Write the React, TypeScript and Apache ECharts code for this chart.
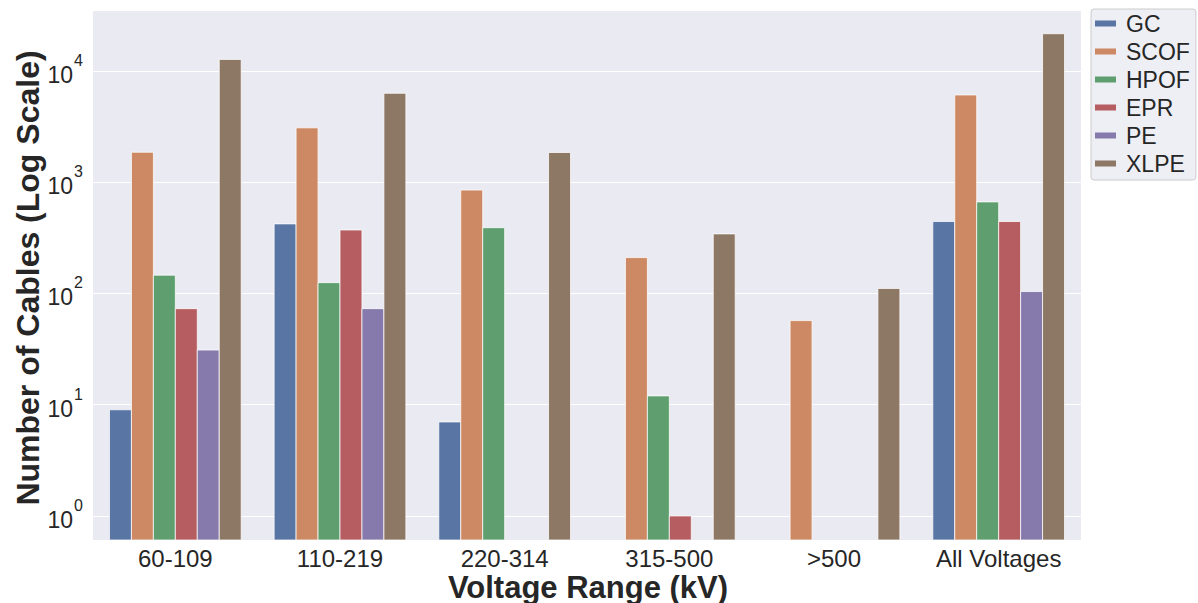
import React, { useEffect, useRef } from 'react';
import * as echarts from 'echarts';

const categories = ['60-109', '110-219', '220-314', '315-500', '>500', 'All Voltages'];
const seriesNames = ['GC', 'SCOF', 'HPOF', 'EPR', 'PE', 'XLPE'];
const gcValues = [9, 422, 7, 0, 0, 443];
const scofValues = [1860, 3080, 850, 210, 57, 6080];
const hpofValues = [146, 125, 390, 12, 0, 665];
const eprValues = [73, 372, 0, 1, 0, 443];
const peValues = [31, 73, 0, 0, 0, 104];
const xlpeValues = [12700, 6300, 1850, 343, 111, 21600];
const allValues = [gcValues, scofValues, hpofValues, eprValues, peValues, xlpeValues];
const colors = ['#5975a4', '#cc8963', '#5f9e6e', '#b55d60', '#857aab', '#8d7866'];

const FONT = '"Liberation Sans", Arial, Helvetica, sans-serif';
const TEXT = '#262626';

export default function App() {
  const ref = useRef<HTMLDivElement>(null);
  useEffect(() => {
    if (!ref.current) return;
    const chart = echarts.init(ref.current, undefined, { renderer: 'svg' });
    const makeRender = (idx: number) => (params: any, api: any) => {
      const cat = api.value(0);
      const val = api.value(1);
      const top = api.coord([cat, val]);
      const cs = params.coordSys;
      const band = cs.width / categories.length;
      const groupW = band * 0.8;
      const w = groupW / seriesNames.length;
      const bottom = cs.y + cs.height;
      const x0 = top[0] - groupW / 2 + idx * w;
      return {
        type: 'rect',
        shape: { x: x0, y: top[1], width: w, height: bottom - top[1] },
        style: { fill: colors[idx], stroke: 'rgba(255,255,255,0.75)', lineWidth: 1 },
      };
    };
    const series = seriesNames.map((name, idx) => ({
      name,
      type: 'custom',
      renderItem: makeRender(idx),
      itemStyle: { color: colors[idx] },
      encode: { x: 0, y: 1 },
      data: allValues[idx]
        .map((v, i) => (v > 0 ? [i, v] : null))
        .filter((d) => d !== null),
    }));
    chart.setOption({
      animation: false,
      backgroundColor: '#ffffff',
      color: colors,
      textStyle: { fontFamily: FONT },
      grid: {
        left: 93,
        right: 117,
        top: 10,
        bottom: 63,
        show: true,
        backgroundColor: '#eaeaf2',
        borderWidth: 0,
        containLabel: false,
      },
      legend: {
        orient: 'vertical',
        left: 1091,
        top: 9,
        icon: 'rect',
        itemWidth: 21,
        itemHeight: 6,
        itemGap: 5,
        padding: [3, 6, 5, 4],
        backgroundColor: 'rgba(234,234,242,0.8)',
        borderColor: '#cccccc',
        borderWidth: 1,
        borderRadius: 3,
        textStyle: { fontSize: 23, color: TEXT, fontFamily: FONT, lineHeight: 23, padding: [0, 0, 0, 5] },
        data: seriesNames,
      },
      xAxis: {
        type: 'category',
        data: categories,
        axisLine: { show: false },
        axisTick: { show: false },
        splitLine: { show: false },
        axisLabel: { fontSize: 24, color: TEXT, margin: 6, fontFamily: FONT },
      },
      yAxis: {
        type: 'log',
        logBase: 10,
        min: 0.608,
        max: 35300,
        axisLine: { show: false },
        axisTick: { show: false },
        splitLine: { show: true, lineStyle: { color: '#ffffff', width: 1.2 } },
        axisLabel: {
          showMinLabel: false,
          showMaxLabel: false,
          margin: 10,
          color: TEXT,
          formatter: (v: number) => {
            const l = Math.log10(v);
            const e = Math.round(l);
            if (Math.abs(l - e) > 0.01) return '';
            return `{b|10}{s|${e}}`;
          },
          rich: {
            b: { fontSize: 23, color: TEXT, fontFamily: FONT, padding: [8, 0, 0, 0] },
            s: { fontSize: 16, color: TEXT, fontFamily: FONT, padding: [0, 0, 21, 1] },
          },
        },
      },
      graphic: [
        {
          type: 'text',
          x: 588,
          y: 587,
          style: {
            text: 'Voltage Range (kV)',
            fontSize: 31,
            fontWeight: 'bold',
            fontFamily: FONT,
            fill: TEXT,
            align: 'center',
            verticalAlign: 'middle',
          },
        },
        {
          type: 'text',
          x: 28,
          y: 278,
          rotation: Math.PI / 2,
          style: {
            text: 'Number of Cables (Log Scale)',
            fontSize: 32,
            fontWeight: 'bold',
            fontFamily: FONT,
            fill: TEXT,
            align: 'center',
            verticalAlign: 'middle',
          },
        },
      ],
      series,
    });
    return () => chart.dispose();
  }, []);
  return (
    <div
      ref={ref}
      style={{ position: 'fixed', left: 0, top: 0, width: 1198, height: 603, background: '#fff' }}
    />
  );
}
